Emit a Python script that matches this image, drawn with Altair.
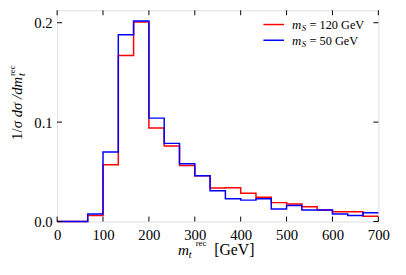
import altair as alt
import pandas as pd

# ---- data ----
n_bins = 21
x_max = 700
bin_edges = [i * x_max / n_bins for i in range(n_bins)] + [x_max]
red_vals = [0, 0, 0.006, 0.057, 0.167, 0.2007, 0.094, 0.076, 0.0564, 0.046, 0.0337,
            0.034, 0.0284, 0.0245, 0.019, 0.0175, 0.0149, 0.0116, 0.0099, 0.0099, 0.0053]
blue_vals = [0, 0, 0.0076, 0.070, 0.188, 0.2017, 0.104, 0.0786, 0.058, 0.046, 0.031,
             0.023, 0.0215, 0.023, 0.0126, 0.016, 0.0116, 0.0116, 0.0076, 0.006, 0.0089]
x_ticks = [0, 100, 200, 300, 400, 500, 600, 700]
y_ticks = [0.0, 0.1, 0.2]
legend_labels = ["= 120 GeV", "= 50 GeV"]
colors = ["#ff0000", "#0000ff"]

W, H = 327, 215
FONT = "'Liberation Serif', 'Times New Roman', 'DejaVu Serif', serif"


def step_df(vals):
    return pd.DataFrame({"x": bin_edges, "y": vals + [vals[-1]]})


xscale = alt.Scale(domain=[0, 700], nice=False, zero=False)
yscale = alt.Scale(domain=[0, 0.2125], nice=False)

xaxis = alt.Axis(values=x_ticks, ticks=False, tickSize=0, domain=False, grid=False,
                 labelFont=FONT, labelFontSize=15, labelColor="black", labelPadding=6,
                 labelFlush=False, title=None)
yaxis = alt.Axis(values=y_ticks, format=".1f", ticks=False, tickSize=0, domain=False,
                 grid=False, labelFont=FONT, labelFontSize=15, labelColor="black",
                 labelPadding=5, title=None)

red_line = alt.Chart(step_df(red_vals)).mark_line(
    interpolate="step-after", color=colors[0], strokeWidth=1.5
).encode(x=alt.X("x:Q", scale=xscale, axis=xaxis), y=alt.Y("y:Q", scale=yscale, axis=yaxis))

blue_line = alt.Chart(step_df(blue_vals)).mark_line(
    interpolate="step-after", color=colors[1], strokeWidth=1.5
).encode(x=alt.X("x:Q", scale=xscale), y=alt.Y("y:Q", scale=yscale))

xt = pd.DataFrame({"t": x_ticks})
yt = pd.DataFrame({"t": y_ticks})
tick_len = 5
xt_bot = alt.Chart(xt).mark_rule(color="black", strokeWidth=1).encode(
    x=alt.X("t:Q", scale=xscale), y=alt.value(H), y2=alt.value(H - tick_len))
xt_top = alt.Chart(xt).mark_rule(color="black", strokeWidth=1).encode(
    x=alt.X("t:Q", scale=xscale), y=alt.value(0), y2=alt.value(tick_len))
yt_left = alt.Chart(yt).mark_rule(color="black", strokeWidth=1).encode(
    y=alt.Y("t:Q", scale=yscale), x=alt.value(0), x2=alt.value(tick_len))
yt_right = alt.Chart(yt).mark_rule(color="black", strokeWidth=1).encode(
    y=alt.Y("t:Q", scale=yscale), x=alt.value(W - tick_len), x2=alt.value(W))


def txt(s, x, y, size, italic=False, angle=0):
    kw = dict(text=s, font=FONT, fontSize=size, align="left", baseline="alphabetic",
              color="black")
    if italic:
        kw["fontStyle"] = "italic"
    if angle:
        kw["angle"] = angle
    return alt.Chart(pd.DataFrame({"a": [0]})).mark_text(**kw).encode(
        x=alt.value(x), y=alt.value(y))


# ---- legend (manual, for the subscript) ----
leg = []
for i, (lab, col) in enumerate(zip(legend_labels, colors)):
    dy = 16 * i
    leg.append(alt.Chart(pd.DataFrame({"a": [0]})).mark_rule(color=col, strokeWidth=1.5).encode(
        x=alt.value(210), x2=alt.value(231), y=alt.value(14.5 + dy)))
    leg.append(txt("m", 239, 19 + dy, 13, italic=True))
    leg.append(txt("S", 249, 21.5 + dy, 9, italic=True))
    leg.append(txt(lab, 257, 19 + dy, 12.5))

# ---- axis titles ----
xtitle = [
    txt("m", 123, 249, 15.5, italic=True),
    txt("t", 134, 252, 10.5, italic=True),
    txt("rec", 141, 240, 9),
    txt("[GeV]", 160, 249, 16),
]

ytitle = [
    txt("1/", -36, 132, 15, angle=270),
    txt("σ dσ /dm", -36, 120, 15, italic=True, angle=270),
    txt("t", -33, 67, 10.5, italic=True, angle=270),
    txt("rec", -43, 67, 9, angle=270),
]

chart = alt.layer(
    red_line, blue_line, xt_bot, xt_top, yt_left, yt_right, *leg, *xtitle, *ytitle
).properties(
    width=W, height=H,
    autosize=alt.AutoSizeParams(type="none"),
    padding={"left": 50, "top": 0, "right": 20, "bottom": 45},
).configure_view(stroke="black", strokeWidth=1.2).configure(background="white")

chart.save("out.html", embed_options={"renderer": "svg", "actions": False})
